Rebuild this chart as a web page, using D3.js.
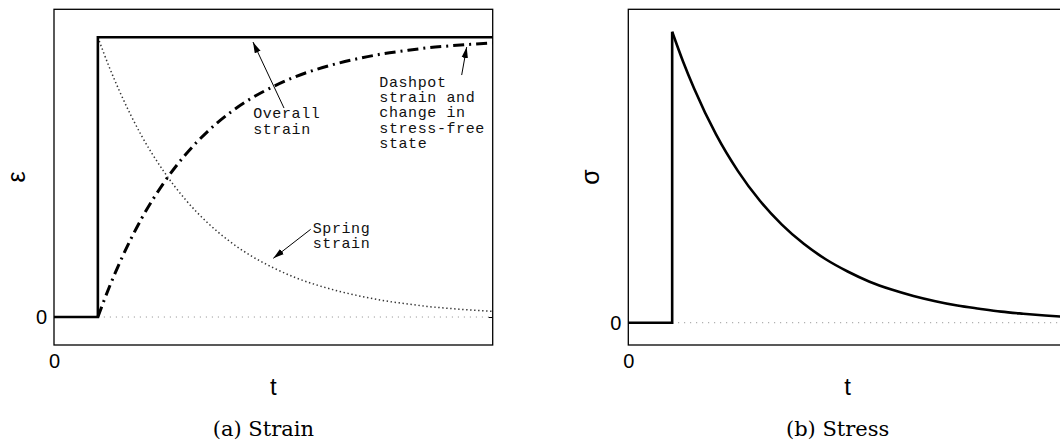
<!DOCTYPE html>
<html>
<head>
<meta charset="utf-8">
<script src="https://cdn.jsdelivr.net/npm/d3@7"></script>
<style>
  html, body { margin: 0; padding: 0; background: #fff; overflow: hidden; }
  svg { display: block; }
</style>
</head>
<body>
<svg id="fig" width="1060" height="442"></svg>
<script>
// Maxwell element under a step strain applied at t = 1

// time samples of the response after the step
const tAfter = [1, 1.25, 1.5, 2, 2.5, 3, 3.5, 4, 4.5, 5, 5.5, 6, 6.5, 7, 7.5, 8, 8.5, 9, 9.5, 10];

// strain carried by the dashpot (rises towards the applied strain)
const dashpotStrain = [0, 0.103, 0.195, 0.353, 0.479, 0.581, 0.663, 0.729, 0.782, 0.824,
                       0.859, 0.886, 0.908, 0.926, 0.941, 0.952, 0.962, 0.969, 0.975, 0.980];

// strain carried by the spring (relaxes back to zero)
const springStrain = [1, 0.897, 0.805, 0.647, 0.521, 0.419, 0.337, 0.271, 0.218, 0.176,
                      0.141, 0.114, 0.092, 0.074, 0.059, 0.048, 0.038, 0.031, 0.025, 0.020];

// overall (applied) strain: a step
const overallT = [0, 1, 1, 10];
const overallStrain = [0, 0, 1, 1];

// stress before the step, then relaxation
const stressBeforeT = [0, 1, 1];
const stressBefore = [0, 0, 1];
const stressRelax = [1, 0.897, 0.805, 0.647, 0.521, 0.419, 0.337, 0.271, 0.218, 0.176,
                     0.141, 0.114, 0.092, 0.074, 0.059, 0.048, 0.038, 0.031, 0.025, 0.020];

// tick labels
const xTicks = [0];
const yTicks = [0];

// callout labels (data coordinates of text start, arrow tail and arrow head)
const noteLines = [["Overall", "strain"],
                   ["Dashpot", "strain and", "change in", "stress-free", "state"],
                   ["Spring", "strain"]];
const noteText = [[4.54, 0.710], [7.415, 0.823], [5.897, 0.301]];
const noteTail = [[5.243, 0.747], [9.293, 0.865], [5.851, 0.3135]];
const noteHead = [[4.536, 0.983], [9.407, 0.965], [4.999, 0.2098]];

const svg = d3.select("#fig");

svg.append("defs").append("marker")
  .attr("id", "head")
  .attr("markerUnits", "userSpaceOnUse")
  .attr("viewBox", "0 -4 11 8")
  .attr("refX", 11).attr("refY", 0)
  .attr("markerWidth", 11).attr("markerHeight", 8)
  .attr("orient", "auto")
  .append("path").attr("d", "M0,-3.2L11,0L0,3.2Z").attr("fill", "#000");

function panel(opts) {
  const x = d3.scaleLinear().domain([0, 10]).range([opts.left, opts.right]);
  const y = d3.scaleLinear().domain(opts.yDomain).range([345, 9.3]);
  const g = svg.append("g");

  // zero reference line
  g.append("line")
    .attr("x1", x(1)).attr("x2", x(10))
    .attr("y1", y(0)).attr("y2", y(0))
    .attr("stroke", "#8a8a8a").attr("stroke-width", 1)
    .attr("stroke-dasharray", "1,5");

  // axes: tick labels only, frame drawn separately
  const ay = g.append("g").attr("transform", `translate(${opts.left},0)`)
    .call(d3.axisLeft(y).tickValues(yTicks).tickSizeInner(-4).tickSizeOuter(0).tickPadding(7).tickFormat(d3.format("d")));
  const ar = g.append("g").attr("transform", `translate(${opts.right},0)`)
    .call(d3.axisRight(y).tickValues(yTicks).tickSizeInner(-4).tickSizeOuter(0).tickFormat(""));
  const ax = g.append("g").attr("transform", `translate(0,345)`)
    .call(d3.axisBottom(x).tickValues(xTicks).tickSize(0).tickPadding(9).tickFormat(d3.format("d")));
  [ay, ar, ax].forEach(a => {
    a.select(".domain").remove();
    a.selectAll("line").attr("stroke", "#000");
    a.selectAll("text").attr("font-family", "'Liberation Sans', Arial, sans-serif")
      .attr("font-size", 20).attr("fill", "#000");
  });

  g.append("rect")
    .attr("x", opts.left).attr("y", 9.3)
    .attr("width", opts.right - opts.left).attr("height", 345 - 9.3)
    .attr("fill", "none").attr("stroke", "#000").attr("stroke-width", 1.3);

  // axis titles
  g.append("text")
    .attr("transform", `translate(${opts.left - 38},177) rotate(-90)`)
    .attr("text-anchor", "middle").attr("dominant-baseline", "central")
    .attr("font-family", "'Liberation Sans', Arial, sans-serif")
    .attr("font-size", 25).text(opts.yLabel);
  g.append("text")
    .attr("x", (opts.left + opts.right) / 2).attr("y", 395)
    .attr("text-anchor", "middle")
    .attr("font-family", "'Liberation Sans', Arial, sans-serif")
    .attr("font-size", 24).text("t");

  // caption
  g.append("text")
    .attr("x", (opts.left + opts.right) / 2 - 10).attr("y", 436)
    .attr("text-anchor", "middle")
    .attr("font-family", "'DejaVu Serif', serif")
    .attr("font-size", 21).text(opts.caption);

  return { x, y, g };
}

// (a) strain
{
  const { x, y, g } = panel({ left: 54, right: 492.7, yDomain: [-0.1, 1.1], yLabel: "ε", caption: "(a) Strain" });
  const lin = d3.line().x(d => x(d[0])).y(d => y(d[1]));
  const smooth = d3.line().x(d => x(d[0])).y(d => y(d[1])).curve(d3.curveMonotoneX);

  g.append("path")
    .attr("d", smooth(tAfter.map((t, i) => [t, springStrain[i]])))
    .attr("fill", "none").attr("stroke", "#333").attr("stroke-width", 1.5)
    .attr("stroke-dasharray", "1.4,2.6");

  g.append("path")
    .attr("d", smooth(tAfter.map((t, i) => [t, dashpotStrain[i]])))
    .attr("fill", "none").attr("stroke", "#000").attr("stroke-width", 3)
    .attr("stroke-dasharray", "11,5,2,5");

  g.append("path")
    .attr("d", lin(overallT.map((t, i) => [t, overallStrain[i]])))
    .attr("fill", "none").attr("stroke", "#000").attr("stroke-width", 2.6)
    .attr("stroke-linejoin", "miter");

  noteLines.forEach((lines, k) => {
    g.append("line")
      .attr("x1", x(noteTail[k][0])).attr("y1", y(noteTail[k][1]))
      .attr("x2", x(noteHead[k][0])).attr("y2", y(noteHead[k][1]))
      .attr("stroke", "#000").attr("stroke-width", 1)
      .attr("marker-end", "url(#head)");
    const txt = g.append("text")
      .attr("font-family", "'Liberation Mono', 'Courier New', monospace")
      .attr("font-size", 15).attr("letter-spacing", 0.6).attr("fill", "#111");
    lines.forEach((s, j) => {
      txt.append("tspan").attr("x", x(noteText[k][0]))
        .attr("y", y(noteText[k][1]) + j * 15.3).text(s);
    });
  });
}

// (b) stress
{
  const { x, y, g } = panel({ left: 628.3, right: 1067, yDomain: [-0.0766, 1.077], yLabel: "σ", caption: "(b) Stress" });
  const lin = d3.line().x(d => x(d[0])).y(d => y(d[1]));
  const smooth = d3.line().x(d => x(d[0])).y(d => y(d[1])).curve(d3.curveMonotoneX);

  g.append("path")
    .attr("d", lin(stressBeforeT.map((t, i) => [t, stressBefore[i]])))
    .attr("fill", "none").attr("stroke", "#000").attr("stroke-width", 2.6);
  g.append("path")
    .attr("d", smooth(tAfter.map((t, i) => [t, stressRelax[i]])))
    .attr("fill", "none").attr("stroke", "#000").attr("stroke-width", 2.6);
}
</script>
</body>
</html>
